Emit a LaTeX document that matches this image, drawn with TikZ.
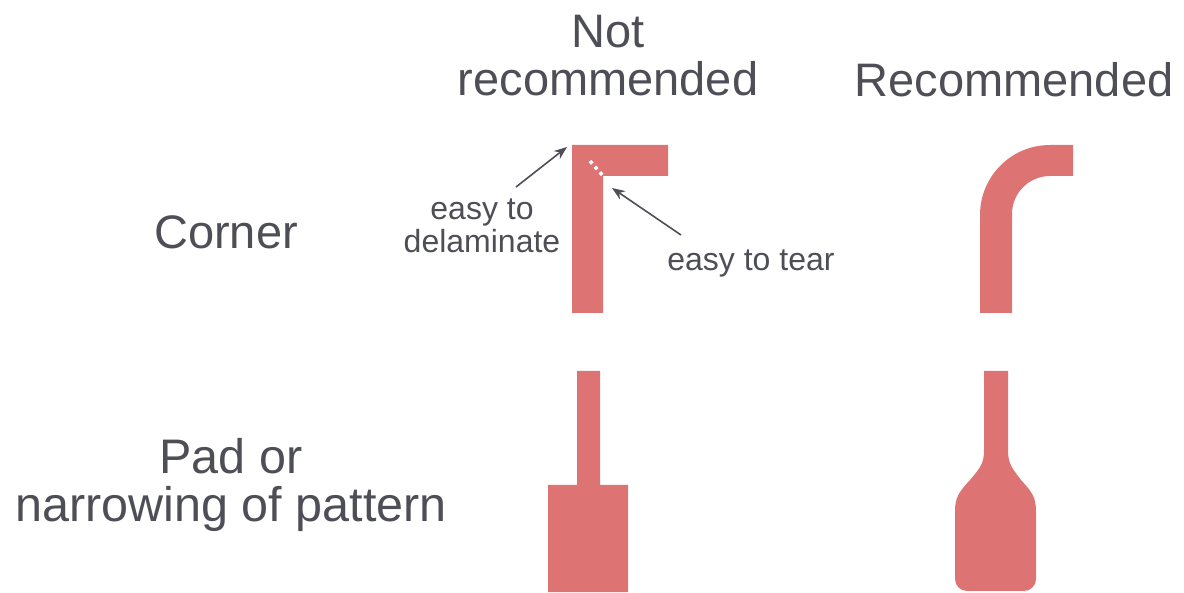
\documentclass[tikz,border=0pt]{standalone}
\usepackage{fontspec}
\setmainfont{Liberation Sans}
\usepackage{tkz-euclide}
\usetikzlibrary{arrows.meta}
\definecolor{trace}{HTML}{DE7373}
\definecolor{ink}{HTML}{4E4E56}

\begin{document}
\begin{tikzpicture}[x=1pt,y=1pt,
    head/.style={text=ink,font=\fontsize{47}{48}\selectfont,align=center},
    note/.style={text=ink,font=\fontsize{32}{33}\selectfont,align=center},
    pointer/.style={draw=ink,line width=1.6pt,-{Stealth[length=13pt,width=10pt]}},
    tearline/.style={draw=white,line width=3.5pt,dash pattern=on 3.5pt off 4pt}]
    \useasboundingbox (0,0) rectangle (1184,592);
    % headings
    \node[head] (notrec) at (608,536) {Not\\recommended};
    \node[head] (rec) at (1014,512) {Recommended};
    \node[head] (corner) at (226,360) {Corner};
    \node[head,font=\fontsize{48.5}{48}\selectfont] (pad) at (231,107) {Pad or\\narrowing of pattern};
    % sharp corner
    \tkzDefPoints{572/279/A,603/279/B,603/416/C,668/416/D,668/447/E,572/447/F}
    \tkzFillPolygon[color=trace](A,B,C,D,E,F)
    \tkzDefPoints{590/431/K1,604/415/K2}
    \draw[tearline] (K1) -- (K2);
    \node[note] (delam) at (482,366) {easy to\\delaminate};
    \node[note] (tear) at (751,329) {easy to tear};
    \tkzDefPoints{516/405/L1,567/445/L2,681/357/T1,612/404/T2}
    \draw[pointer] (L1) -- (L2);
    \draw[pointer] (T1) -- (T2);
    % rounded corner
    \fill[trace] (980,279) -- (980,377) arc[start angle=180,end angle=90,radius=70]
        -- (1073,447) -- (1073,416) -- (1050,416)
        arc[start angle=90,end angle=180,radius=38] -- (1012,279) -- cycle;
    % abrupt pad
    \tkzDefPoints{548/0/P1,628/0/P2,628/107/P3,600/107/P4,600/221/P5,577/221/P6,577/107/P7,548/107/P8}
    \tkzFillPolygon[color=trace](P1,P2,P3,P4,P5,P6,P7,P8)
    % tapered pad
    \fill[trace] (984,221) -- (984,142) .. controls (984,128) and (980,124) .. (970,112)
        .. controls (958,99) and (955,94) .. (955,80) -- (955,13)
        arc[start angle=180,end angle=270,radius=12] -- (1024,1)
        arc[start angle=270,end angle=360,radius=12] -- (1036,80)
        .. controls (1036,94) and (1033,99) .. (1021,112)
        .. controls (1012,124) and (1008,128) .. (1008,142) -- (1008,221) -- cycle;
\end{tikzpicture}
\end{document}
